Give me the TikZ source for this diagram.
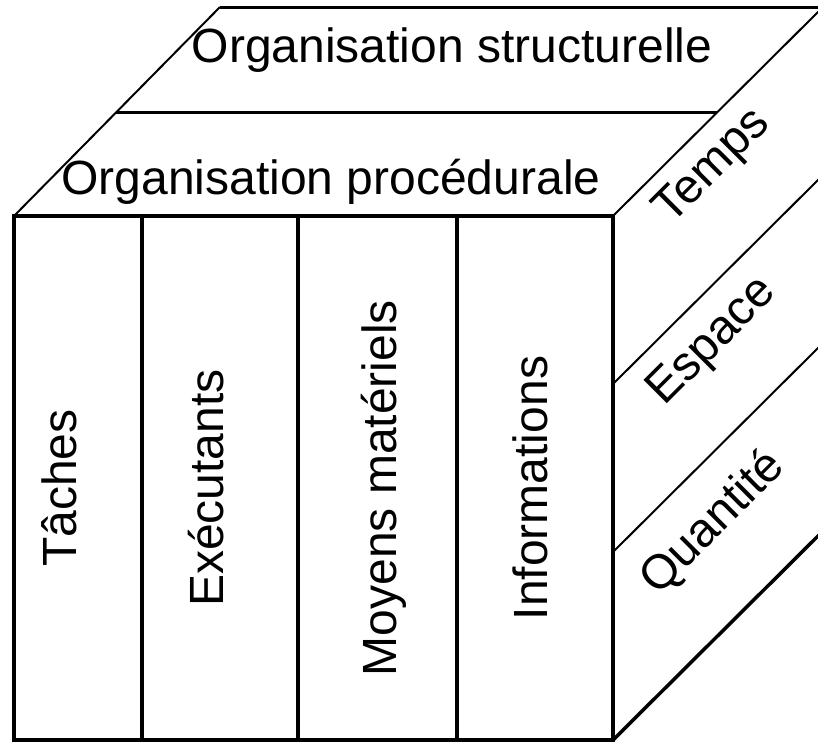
\documentclass[tikz,border=0pt]{standalone}
\usepackage{fontspec}
\setmainfont{Liberation Sans}
\usetikzlibrary{calc}

\begin{document}
\begin{tikzpicture}
		[x=1pt, y=-1pt,
		frontline/.style = {draw=black, line width=4pt},
		topline/.style = {draw=black, line width=3pt},
		backline/.style = {draw=black, line width=2pt},
		lbl/.style = {font=\fontsize{48}{58}\selectfont, inner sep=0pt}]
		
		\useasboundingbox (0,0) rectangle (818,745);
		
		% front face
		\coordinate (fronttl) at (14,216);
		\coordinate (fronttr) at (613,216);
		\coordinate (frontbr) at (613,740);
		\coordinate (frontbl) at (14,740);
		\draw[frontline] (fronttl) rectangle (frontbr);
		\foreach \x in {142,298,457}
		{
			\draw[frontline] (\x,216) -- (\x,740);
		}
		
		% top face
		\draw[backline] (fronttl) -- (220,7);
		\draw[topline] (220,7) -- (820,7);
		\draw[topline] (116,112) -- (717,112);
		\draw[backline] (fronttr) -- ++(210,-209);
		
		% right face
		\foreach \y in {384,552}
		{
			\draw[backline] (613,\y) -- ++(210,-209);
		}
		\draw[frontline, line width=3.5pt] (frontbr) -- ++(210,-209);
		
		\node[lbl, anchor=base] (structurelle) at (452,62) {Organisation structurelle};
		\node[lbl, anchor=base] (procedurale) at (331,194) {Organisation procédurale};
		
		\foreach \x/\name/\txt in {
			76/taches/{Tâches},
			223/executants/{Exécutants},
			396/moyens/{Moyens matériels},
			547/informations/{Informations}}
		{
			\node[lbl, rotate=90, anchor=base] (\name) at (\x,488) {\txt};
		}
		
		\foreach \y/\name/\txt in {
			167/temps/{Temps},
			342/espace/{Espace},
			523/quantite/{Quantité}}
		{
			\node[lbl, rotate=45] (\name) at (713,\y) {\txt};
		}
		
	\end{tikzpicture}
\end{document}
